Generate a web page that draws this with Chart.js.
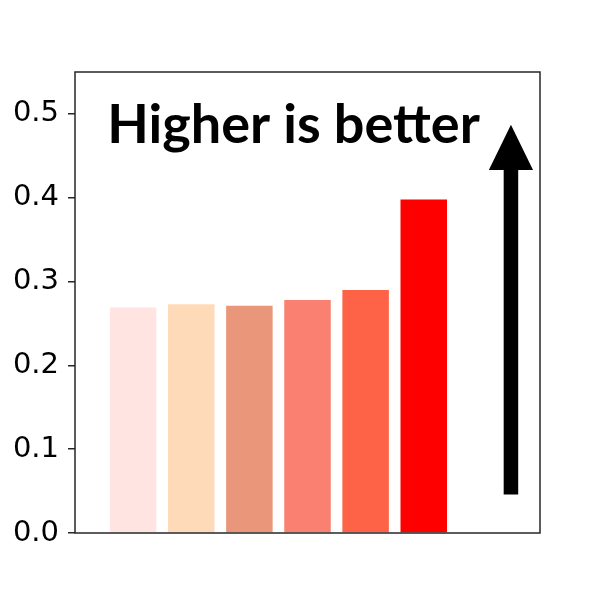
<!DOCTYPE html>
<html>
<head>
<meta charset="utf-8">
<script src="https://cdn.jsdelivr.net/npm/chart.js@4/dist/chart.umd.min.js"></script>
<style>
  html, body { margin: 0; padding: 0; background: #fff; }
  #wrap { width: 600px; height: 600px; }
</style>
</head>
<body>
<div id="wrap"><canvas id="chart" width="600" height="600"></canvas></div>
<script>
// data
const positions = [0, 1, 2, 3, 4, 5];
const values = [0.269, 0.273, 0.271, 0.278, 0.290, 0.398];
const barColors = ['#FFE4E1', '#FFDAB9', '#E9967A', '#FA8072', '#FF6347', '#FF0000'];
const yTicks = [0, 0.1, 0.2, 0.3, 0.4, 0.5];
const noteText = 'Higher is better';

// arrow + note placement (data units)
const arrowX = 6.5;
const arrowFrom = 0.046;
const arrowTo = 0.487;
const noteX = 2.76;
const noteY = 0.465;

const extras = {
    id: 'extras',
    afterDatasetsDraw(chart) {
        const c = chart.ctx;
        const x = chart.scales.x, y = chart.scales.y;
        c.save();
        // arrow (shaft + head)
        const cx = x.getPixelForValue(arrowX);
        const half = (x.getPixelForValue(arrowX + 0.125) - cx);
        const headHalf = (x.getPixelForValue(arrowX + 0.38) - cx);
        const yBase = y.getPixelForValue(arrowFrom);
        const yTip = y.getPixelForValue(arrowTo);
        const yHead = y.getPixelForValue(arrowTo - 0.054);
        c.fillStyle = '#000';
        c.beginPath();
        c.moveTo(cx - half, yBase);
        c.lineTo(cx - half, yHead);
        c.lineTo(cx - headHalf, yHead);
        c.lineTo(cx, yTip);
        c.lineTo(cx + headHalf, yHead);
        c.lineTo(cx + half, yHead);
        c.lineTo(cx + half, yBase);
        c.closePath();
        c.fill();
        // note
        c.font = 'bold 54px Lato';
        c.textAlign = 'center';
        c.textBaseline = 'alphabetic';
        c.fillText(noteText, x.getPixelForValue(noteX), y.getPixelForValue(noteY));
        c.restore();
    },
    afterDraw(chart) {
        const a = chart.chartArea, c = chart.ctx;
        c.save();
        c.strokeStyle = '#262626';
        c.lineWidth = 1.5;
        c.strokeRect(a.left, a.top, a.right - a.left, a.bottom - a.top);
        c.restore();
    }
};

new Chart(document.getElementById('chart'), {
    type: 'bar',
    data: {
        datasets: [{
            data: positions.map((p, i) => ({ x: p, y: values[i] })),
            backgroundColor: barColors,
            borderWidth: 0,
            barPercentage: 0.8,
            categoryPercentage: 1
        }]
    },
    options: {
        responsive: false,
        animation: false,
        layout: { padding: { left: 0, right: 60, top: 72, bottom: 67 } },
        plugins: { legend: { display: false }, tooltip: { enabled: false } },
        scales: {
            x: { type: 'linear', min: -1, max: 7, offset: false, display: false },
            y: {
                min: 0,
                max: 0.55,
                afterFit(s) { s.width = 75; },
                afterBuildTicks(s) { s.ticks = yTicks.map(v => ({ value: v })); },
                border: { display: false },
                grid: { drawOnChartArea: false, drawTicks: true, tickLength: 7, tickColor: '#262626', lineWidth: 1.5 },
                ticks: {
                    padding: 9,
                    color: '#000',
                    font: { family: 'DejaVu Sans', size: 29 },
                    callback: v => v.toFixed(1)
                }
            }
        }
    },
    plugins: [extras]
});
</script>
</body>
</html>
